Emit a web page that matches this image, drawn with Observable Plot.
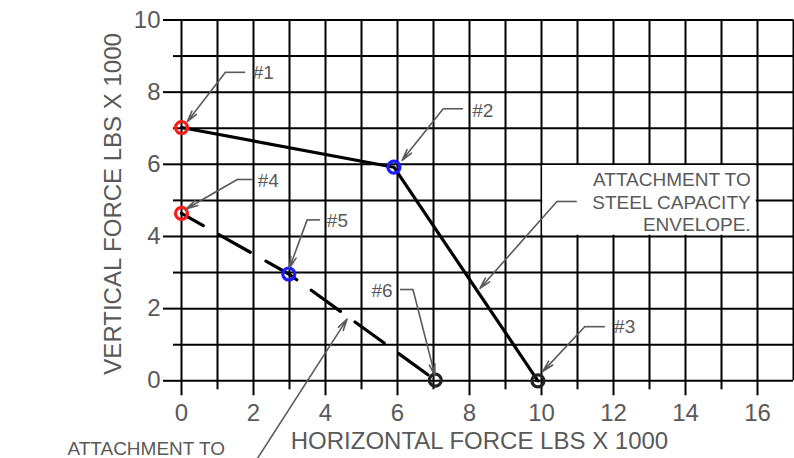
<!DOCTYPE html>
<html>
<head>
<meta charset="utf-8">
<script src="https://cdn.jsdelivr.net/npm/d3@7"></script>
<script src="https://cdn.jsdelivr.net/npm/@observablehq/plot@0.6"></script>
<style>
  html, body { margin: 0; padding: 0; background: #fff; }
  #chart svg { display: block; }
</style>
</head>
<body>
<div id="chart"></div>
<script>
// ---- data (thousands of lbs) ----
const envelopeX = [0, 5.9, 9.9];
const envelopeY = [7.02, 5.92, 0];
const attachX = [0, 2.98, 7.05];
const attachY = [4.64, 2.96, 0.02];

const pointLabels = ["#1", "#2", "#3", "#4", "#5", "#6"];
const pointX = [0, 5.9, 9.9, 0, 2.98, 7.05];
const pointY = [7.02, 5.92, 0, 4.64, 2.96, 0.02];
const pointColor = ["#ff1a1a", "#1a1aff", "#222222", "#ff1a1a", "#1a1aff", "#222222"];

// leader annotations: label position, elbow (horizontal stub), arrow tip
const labelX = [2.27, 8.37, 12.31, 2.41, 4.33, 5.57];
const labelY = [8.54, 7.49, 1.48, 5.55, 4.44, 2.48];
const stubX1 = [1.77, 7.82, 11.76, 1.97, 3.85, 6.07];
const stubX2 = [1.22, 7.27, 11.20, 1.55, 3.49, 6.43];
const stubY = [8.55, 7.54, 1.50, 5.58, 4.46, 2.53];
const tipX = [0.16, 6.13, 10.04, 0.14, 3.0, 7.04];
const tipY = [7.18, 6.11, 0.26, 4.77, 3.13, 0.15];

const envelopeNote = "ATTACHMENT TO\nSTEEL CAPACITY\nENVELOPE.";
const envelopeNoteX = 15.81, envelopeNoteY = 4.97;
const envelopeBox = {x1: 10, x2: 16, y1: 4, y2: 6};
const envelopeStub = {x1: 10.98, x2: 10.43, y: 4.97};
const envelopeTip = {x: 8.29, y: 2.56};

const concreteNote = "ATTACHMENT TO";
const concreteNoteX = -0.98, concreteNoteY = -1.88;
const concreteLeader = {x1: 2.11, y1: -2.15, x2: 4.60, y2: 1.71};

const xTicksMajor = [0, 2, 4, 6, 8, 10, 12, 14, 16];
const xTicksMinor = [1, 3, 5, 7, 9, 11, 13, 15];
const xGrid = d3.range(0, 18);
const yTicksMajor = [0, 2, 4, 6, 8, 10];
const yTicksMinor = [1, 3, 5, 7, 9];
const yGrid = d3.range(0, 11);

const xTitle = "HORIZONTAL FORCE LBS X 1000";
const yTitle = "VERTICAL FORCE LBS X 1000";

// ---- build tables ----
const points = pointLabels.map((l, i) => ({label: l, x: pointX[i], y: pointY[i], color: pointColor[i]}));
const envelope = envelopeX.map((x, i) => ({x, y: envelopeY[i]}));
const attach = attachX.map((x, i) => ({x, y: attachY[i]}));
const leaders = pointLabels.map((l, i) => ({
  label: l, lx: labelX[i], ly: labelY[i],
  sx1: stubX1[i], sx2: stubX2[i], sy: stubY[i], tx: tipX[i], ty: tipY[i]
}));

const TEXT = "#595959";
const LEAD = "#5a5a5a";
const FONT = "Liberation Sans, Arial, Helvetica, sans-serif";
const NOTE_SIZE = 19;

const chart = Plot.plot({
  width: 794,
  height: 458,
  marginLeft: 181,
  marginRight: 1,
  marginTop: 19.5,
  marginBottom: 77.7,
  style: {fontFamily: FONT, background: "#fff"},
  x: {domain: [0, 17]},
  y: {domain: [0, 10]},
  marks: [
    Plot.gridX({ticks: xGrid, stroke: "black", strokeOpacity: 1, strokeWidth: 2}),
    Plot.gridY({ticks: yGrid, stroke: "black", strokeOpacity: 1, strokeWidth: 2}),
    Plot.axisX({ticks: xTicksMajor, tickSize: 15, tickPadding: 8, fontSize: 24, stroke: "black", fill: TEXT, strokeWidth: 2, label: null}),
    Plot.axisX({ticks: xTicksMinor, tickSize: 9, tickFormat: () => "", stroke: "black", strokeWidth: 2, label: null}),
    Plot.axisY({ticks: yTicksMajor, tickSize: 18, tickPadding: 3, fontSize: 24, stroke: "black", fill: TEXT, strokeWidth: 2, label: null}),
    Plot.axisY({ticks: yTicksMinor, tickSize: 8, tickFormat: () => "", stroke: "black", strokeWidth: 2, label: null}),
    // white box behind the envelope note
    Plot.rect([envelopeBox], {x1: "x1", x2: "x2", y1: "y1", y2: "y2", fill: "white", inset: 1.2}),
    // envelope (solid) and attachment (dashed) lines
    Plot.line(envelope, {x: "x", y: "y", stroke: "black", strokeWidth: 3.2}),
    Plot.line(attach, {x: "x", y: "y", stroke: "black", strokeWidth: 3.2, strokeDasharray: "36,18", strokeDashoffset: 11}),
    // points
    Plot.dot(points, {x: "x", y: "y", r: 6, stroke: "color", strokeWidth: 3.2, fill: "none"}),
    // leaders
    Plot.link(leaders, {x1: "sx1", x2: "sx2", y1: "sy", y2: "sy", stroke: LEAD, strokeWidth: 1.6}),
    Plot.arrow(leaders, {x1: "sx2", y1: "sy", x2: "tx", y2: "ty", stroke: LEAD, strokeWidth: 1.6, headLength: 11, headAngle: 28}),
    Plot.text(leaders, {x: "lx", y: "ly", text: "label", fill: TEXT, fontSize: NOTE_SIZE}),
    // envelope note
    Plot.link([envelopeStub], {x1: "x1", x2: "x2", y1: "y", y2: "y", stroke: LEAD, strokeWidth: 1.6}),
    Plot.arrow([envelopeStub], {x1: "x2", y1: "y", x2: () => envelopeTip.x, y2: () => envelopeTip.y, stroke: LEAD, strokeWidth: 1.6, headLength: 11, headAngle: 28}),
    Plot.text([envelopeNote], {x: envelopeNoteX, y: envelopeNoteY, text: d => d, textAnchor: "end", lineAnchor: "middle", lineHeight: 1.18, fill: TEXT, fontSize: NOTE_SIZE}),
    // concrete note (cut off by the frame at the bottom)
    Plot.arrow([concreteLeader], {x1: "x1", y1: "y1", x2: "x2", y2: "y2", stroke: LEAD, strokeWidth: 1.6, headLength: 11, headAngle: 28}),
    Plot.text([concreteNote], {x: concreteNoteX, y: concreteNoteY, text: d => d, fill: TEXT, fontSize: NOTE_SIZE}),
    // axis titles
    Plot.text([xTitle], {frameAnchor: "bottom", dx: -8, dy: 61, text: d => d, fill: TEXT, fontSize: 24, textAnchor: "middle", lineAnchor: "middle"}),
    Plot.text([yTitle], {frameAnchor: "left", dx: -68, dy: 3.5, rotate: -90, text: d => d, fill: TEXT, fontSize: 24, textAnchor: "middle", lineAnchor: "middle"})
  ]
});
document.getElementById("chart").appendChild(chart);
</script>
</body>
</html>
